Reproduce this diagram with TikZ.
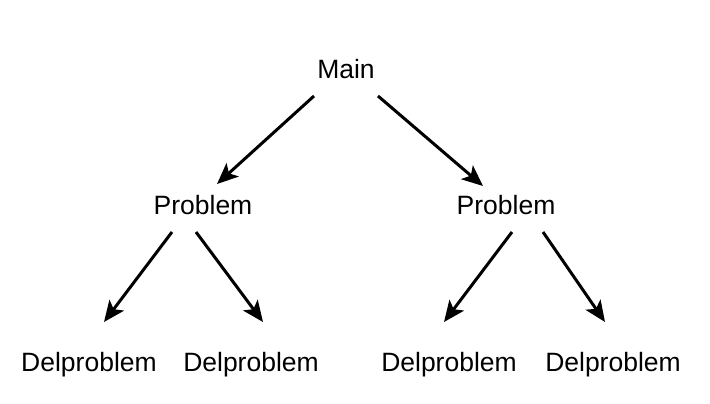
\documentclass[tikz,border=0pt]{standalone}
\usepackage{fontspec}
\setmainfont{Liberation Sans}
\usetikzlibrary{arrows.meta}
\begin{document}
\begin{tikzpicture}[x=1pt,y=-1pt,
  lbl/.style={font=\fontsize{26.5}{31}\selectfont, inner sep=0pt, anchor=center},
  arr/.style={line width=3pt, -{Stealth[length=21pt,width=18pt,inset=5pt]}}]
\useasboundingbox (0,0) rectangle (710,404);
\node[lbl] (main) at (346,69) {Main};
\node[lbl] (p1) at (203,205) {Problem};
\node[lbl] (p2) at (506,205) {Problem};
\node[lbl] (d1) at (89,365) {Delproblem};
\node[lbl] (d2) at (251,365) {Delproblem};
\node[lbl] (d3) at (449,365) {Delproblem};
\node[lbl] (d4) at (613,365) {Delproblem};
\coordinate (a1s) at (314,96); \coordinate (a1e) at (217,184);
\coordinate (a2s) at (378,96); \coordinate (a2e) at (483,186);
\coordinate (b1s) at (172,232); \coordinate (b1e) at (104,322);
\coordinate (b2s) at (196,232); \coordinate (b2e) at (263,322);
\coordinate (c1s) at (512,232); \coordinate (c1e) at (444,322);
\coordinate (c2s) at (543,232); \coordinate (c2e) at (605,322);
\draw[arr] (a1s) -- (a1e);
\draw[arr] (a2s) -- (a2e);
\draw[arr] (b1s) -- (b1e);
\draw[arr] (b2s) -- (b2e);
\draw[arr] (c1s) -- (c1e);
\draw[arr] (c2s) -- (c2e);
\end{tikzpicture}
\end{document}
